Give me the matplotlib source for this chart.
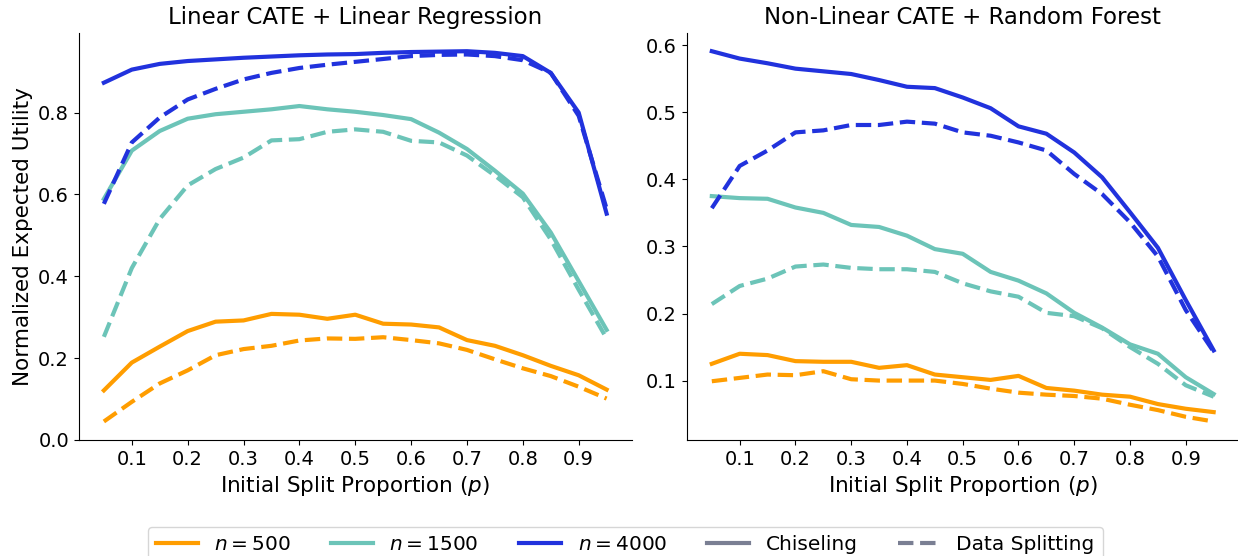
import numpy as np
import matplotlib
matplotlib.use('Agg')
import matplotlib.pyplot as plt
from matplotlib.lines import Line2D

# split proportions
p = np.arange(0.05, 0.951, 0.05)
n_labels = ['$n = 500$', '$n = 1500$', '$n = 4000$']
colors = ['#ff9d00', '#6cc4b8', '#2132dd']
method_color = '#7a7f93'

# Linear CATE + Linear Regression
lin_chisel_500 = [0.121, 0.189, 0.228, 0.266, 0.289, 0.292, 0.308, 0.306, 0.296, 0.306,
                  0.284, 0.282, 0.275, 0.244, 0.230, 0.207, 0.181, 0.158, 0.123]
lin_split_500 = [0.045, 0.093, 0.138, 0.170, 0.207, 0.222, 0.230, 0.243, 0.248, 0.247,
                 0.251, 0.244, 0.236, 0.220, 0.197, 0.175, 0.156, 0.130, 0.101]
lin_chisel_1500 = [0.589, 0.707, 0.755, 0.785, 0.796, 0.802, 0.808, 0.816, 0.808, 0.802,
                   0.794, 0.784, 0.751, 0.711, 0.658, 0.602, 0.507, 0.388, 0.269]
lin_split_1500 = [0.252, 0.420, 0.540, 0.622, 0.662, 0.690, 0.732, 0.735, 0.753, 0.759,
                  0.753, 0.731, 0.727, 0.695, 0.646, 0.593, 0.490, 0.367, 0.248]
lin_chisel_4000 = [0.873, 0.905, 0.919, 0.926, 0.930, 0.934, 0.937, 0.940, 0.942, 0.943,
                   0.946, 0.948, 0.949, 0.950, 0.946, 0.938, 0.897, 0.800, 0.553]
lin_split_4000 = [0.577, 0.727, 0.788, 0.832, 0.858, 0.881, 0.897, 0.909, 0.917, 0.924,
                  0.931, 0.938, 0.941, 0.942, 0.938, 0.928, 0.897, 0.792, 0.565]

# Non-Linear CATE + Random Forest
rf_chisel_500 = [0.125, 0.140, 0.138, 0.129, 0.128, 0.128, 0.119, 0.123, 0.109, 0.105,
                 0.101, 0.107, 0.089, 0.085, 0.079, 0.076, 0.065, 0.058, 0.053]
rf_split_500 = [0.099, 0.104, 0.109, 0.108, 0.114, 0.102, 0.100, 0.100, 0.100, 0.095,
                0.088, 0.082, 0.079, 0.077, 0.073, 0.064, 0.056, 0.046, 0.039]
rf_chisel_1500 = [0.375, 0.372, 0.371, 0.358, 0.350, 0.332, 0.329, 0.316, 0.296, 0.289,
                  0.262, 0.249, 0.230, 0.201, 0.179, 0.154, 0.140, 0.105, 0.080]
rf_split_1500 = [0.214, 0.241, 0.252, 0.270, 0.273, 0.268, 0.266, 0.266, 0.262, 0.245,
                 0.233, 0.225, 0.201, 0.196, 0.178, 0.150, 0.125, 0.093, 0.076]
rf_chisel_4000 = [0.591, 0.580, 0.573, 0.565, 0.561, 0.557, 0.548, 0.538, 0.536, 0.522,
                  0.506, 0.479, 0.468, 0.440, 0.403, 0.351, 0.298, 0.220, 0.145]
rf_split_4000 = [0.357, 0.420, 0.443, 0.470, 0.473, 0.481, 0.481, 0.486, 0.483, 0.470,
                 0.465, 0.455, 0.443, 0.408, 0.378, 0.336, 0.285, 0.205, 0.143]

panels = [
    ("Linear CATE + Linear Regression",
     [lin_chisel_500, lin_chisel_1500, lin_chisel_4000],
     [lin_split_500, lin_split_1500, lin_split_4000]),
    ("Non-Linear CATE + Random Forest",
     [rf_chisel_500, rf_chisel_1500, rf_chisel_4000],
     [rf_split_500, rf_split_1500, rf_split_4000]),
]

figure = plt.figure(figsize=(12.38, 5.56), dpi=100)
ax_left = figure.add_axes([0.0636, 0.2086, 0.4467, 0.7326])
ax_right = figure.add_axes([0.5547, 0.2086, 0.4459, 0.7326])

for ax, (title, chisel, split) in zip([ax_left, ax_right], panels):
    for i in range(3):
        ax.plot(p, chisel[i], color=colors[i], lw=3, ls='-')
        ax.plot(p, split[i], color=colors[i], lw=3, ls='--')
    ax.set_title(title, fontsize=16.5)
    ax.set_xlabel('Initial Split Proportion ($p$)', fontsize=15.5)
    ax.set_xticks([0.1, 0.2, 0.3, 0.4, 0.5, 0.6, 0.7, 0.8, 0.9])
    ax.tick_params(labelsize=14)
    ax.spines['top'].set_visible(False)
    ax.spines['right'].set_visible(False)

ax_left.set_ylabel('Normalized Expected Utility', fontsize=15.5)

handles = [Line2D([], [], color=c, lw=3) for c in colors]
handles.append(Line2D([], [], color=method_color, lw=3, ls='-'))
handles.append(Line2D([], [], color=method_color, lw=3, ls='--'))
labels = n_labels + ['Chiseling', 'Data Splitting']
figure.legend(handles, labels, loc='upper center', ncol=5, fontsize=14.5,
              bbox_to_anchor=(0.505, 1 - 527 / 556), borderaxespad=0,
              handlelength=2.1)

figure.savefig('out.png', dpi=100)
